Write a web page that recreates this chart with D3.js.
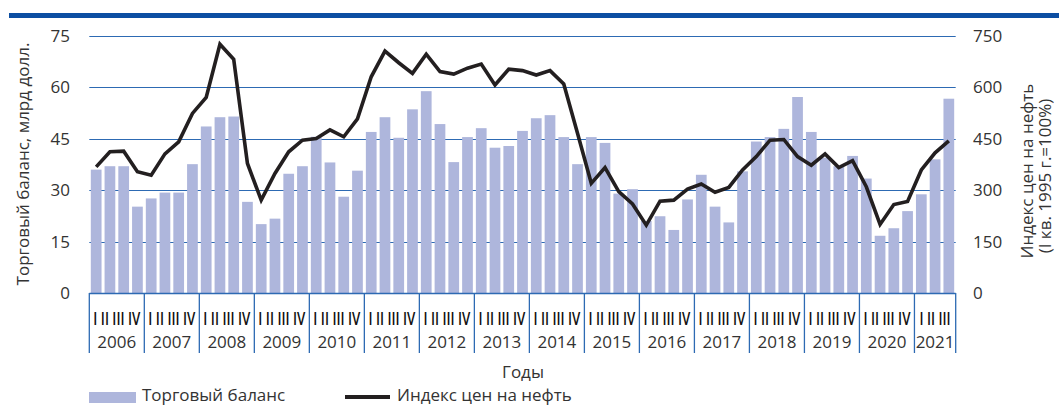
<!doctype html>
<html lang="ru">
<head>
<meta charset="UTF-8">
<title>Торговый баланс и индекс цен на нефть</title>
<style>
  html, body { margin: 0; padding: 0; background: #fff; }
  svg { display: block; font-family: 'Open Sans', sans-serif; }
  .tick-label { font-size: 17px; fill: #333; }
  .title { font-size: 17px; fill: #333; }
</style>
</head>
<body>
<svg width="1059" height="405"></svg>
<script src="https://d3js.org/d3.v7.min.js"></script>
<script>
  const years = ['2006', '2007', '2008', '2009', '2010', '2011', '2012', '2013',
    '2014', '2015', '2016', '2017', '2018', '2019', '2020', '2021']
  const quarterNames = ['I', 'II', 'III', 'IV']

  // торговый баланс, млрд долл. (по кварталам, I кв. 2006 – III кв. 2021)
  const tradeBalance = [
    36, 37, 37, 25.2,
    27.6, 29.3, 29.3, 37.6,
    48.6, 51.3, 51.5, 26.6,
    20.1, 21.7, 34.8, 37,
    45.6, 38.1, 28.1, 35.7,
    47, 51.3, 45.3, 53.6,
    58.9, 49.3, 38.2, 45.5,
    48.1, 42.4, 42.9, 47.3,
    51, 51.9, 45.5, 37.6,
    45.5, 43.8, 29, 30.3,
    21, 22.4, 18.4, 27.3,
    34.5, 25.2, 20.6, 35.5,
    44.2, 45.5, 47.9, 57.2,
    47, 39.5, 37, 40,
    33.4, 16.7, 18.9, 23.9,
    28.8, 39, 56.7
  ]

  // индекс цен на нефть (I кв. 1995 г. = 100%)
  const oilIndex = [
    368, 412, 414, 354,
    344, 406, 441, 524,
    571, 726, 682, 378,
    271, 349, 412, 446,
    451, 476, 456, 508,
    631, 706, 672, 641,
    697, 646, 639, 656,
    668, 607, 653, 649,
    636, 649, 610, 466,
    320, 366, 296, 260,
    198, 268, 271, 303,
    318, 294, 308, 359,
    398, 446, 448, 398,
    373, 406, 366, 386,
    310, 200, 258, 267,
    359, 409, 444
  ]

  const leftTicks = [0, 15, 30, 45, 60, 75]
  const rightTicks = [0, 150, 300, 450, 600, 750]

  const blue = '#2d6ab3'
  const barColor = '#aeb6dc'

  const svg = d3.select('svg')

  const quarters = tradeBalance.map((v, i) => ({
    i,
    year: years[Math.floor(i / 4)],
    q: quarterNames[i % 4],
    balance: v,
    oil: oilIndex[i]
  }))

  const x = d3.scaleBand()
    .domain(quarters.map(d => d.i))
    .range([89.3, 955.7])
    .paddingInner(0.22)
    .paddingOuter(0.11)

  const step = x.step()
  const x0 = 89.3

  const yL = d3.scaleLinear().domain([0, 75]).range([293, 36])
  const yR = d3.scaleLinear().domain([0, 750]).range([293, 36])

  // top rule
  svg.append('rect')
    .attr('x', 9).attr('y', 13)
    .attr('width', 1050).attr('height', 5)
    .attr('fill', '#0c4ea2')

  // gridlines
  svg.append('g')
    .selectAll('line')
    .data(leftTicks.filter(t => t > 0))
    .enter()
    .append('line')
    .attr('x1', x0).attr('x2', 955.7)
    .attr('y1', d => Math.round(yL(d)) + 0.5)
    .attr('y2', d => Math.round(yL(d)) + 0.5)
    .attr('stroke', blue)
    .attr('stroke-width', 1)

  // bars
  svg.append('g')
    .selectAll('rect')
    .data(quarters)
    .enter()
    .append('rect')
    .attr('x', d => x(d.i))
    .attr('width', x.bandwidth())
    .attr('y', d => yL(d.balance))
    .attr('height', d => yL(0) - yL(d.balance))
    .attr('fill', barColor)

  // oil line
  const line = d3.line()
    .x(d => x(d.i) + x.bandwidth() / 2)
    .y(d => yR(d.oil))

  svg.append('path')
    .datum(quarters)
    .attr('d', line)
    .attr('fill', 'none')
    .attr('stroke', '#231f20')
    .attr('stroke-width', 3.6)
    .attr('stroke-linejoin', 'miter')

  // bottom axis frame
  const axisG = svg.append('g')
  axisG.append('line')
    .attr('x1', x0).attr('x2', 955.7)
    .attr('y1', 293.5).attr('y2', 293.5)
    .attr('stroke', blue).attr('stroke-width', 1.3)

  const boundaries = d3.range(years.length).map(k => x0 + k * 4 * step).concat([955.7])
  axisG.selectAll('line.year-tick')
    .data(boundaries)
    .enter()
    .append('line')
    .attr('class', 'year-tick')
    .attr('x1', d => d).attr('x2', d => d)
    .attr('y1', 293).attr('y2', 353)
    .attr('stroke', blue).attr('stroke-width', 1.3)

  // quarters present in each year
  const quartersPerYear = years.map((y, k) => Math.min(4, tradeBalance.length - k * 4))

  // quarter labels, one string per year, squeezed horizontally
  axisG.selectAll('text.q')
    .data(years)
    .enter()
    .append('text')
    .attr('class', 'q')
    .attr('text-anchor', 'middle')
    .style('font-size', '18px')
    .style('font-weight', 600)
    .attr('fill', '#111')
    .text((d, k) => quarterNames.slice(0, quartersPerYear[k]).join(' '))
    .attr('transform', function (d, k) {
      const cx = x0 + (k * 4 + quartersPerYear[k] / 2) * step
      const want = quartersPerYear[k] === 4 ? 47 : 31
      const s = want / this.getComputedTextLength()
      return `translate(${cx},325) scale(${s},1)`
    })

  // year labels
  axisG.selectAll('text.year')
    .data(years)
    .enter()
    .append('text')
    .attr('class', 'tick-label')
    .attr('x', (d, k) => x0 + (k * 4 + quartersPerYear[k] / 2) * step)
    .attr('y', 348)
    .attr('text-anchor', 'middle')
    .text(d => d)

  // left ticks
  svg.append('g')
    .selectAll('text')
    .data(leftTicks)
    .enter()
    .append('text')
    .attr('class', 'tick-label')
    .attr('x', 70)
    .attr('y', d => yL(d))
    .attr('dy', '0.35em')
    .attr('text-anchor', 'end')
    .text(d => d)

  // right ticks
  svg.append('g')
    .selectAll('text')
    .data(rightTicks)
    .enter()
    .append('text')
    .attr('class', 'tick-label')
    .attr('x', 973)
    .attr('y', d => yR(d))
    .attr('dy', '0.35em')
    .attr('text-anchor', 'start')
    .text(d => d)

  // axis titles
  svg.append('text')
    .attr('class', 'title')
    .attr('transform', 'translate(29,164) rotate(-90)')
    .attr('text-anchor', 'middle')
    .text('Торговый баланс, млрд долл.')

  svg.append('text')
    .attr('class', 'title')
    .attr('transform', 'translate(1033,171) rotate(-90)')
    .attr('text-anchor', 'middle')
    .text('Индекс цен на нефть')

  svg.append('text')
    .attr('class', 'title')
    .attr('transform', 'translate(1051,176) rotate(-90)')
    .attr('text-anchor', 'middle')
    .text('(I кв. 1995 г.=100%)')

  svg.append('text')
    .attr('class', 'title')
    .attr('x', 523)
    .attr('y', 378)
    .attr('text-anchor', 'middle')
    .text('Годы')

  // legend
  const legend = svg.append('g')
  legend.append('rect')
    .attr('x', 89).attr('y', 392)
    .attr('width', 47).attr('height', 11)
    .attr('fill', barColor)
  legend.append('text')
    .attr('class', 'title')
    .attr('x', 142).attr('y', 401)
    .text('Торговый баланс')
  legend.append('line')
    .attr('x1', 345).attr('x2', 390)
    .attr('y1', 397).attr('y2', 397)
    .attr('stroke', '#231f20').attr('stroke-width', 4)
  legend.append('text')
    .attr('class', 'title')
    .attr('x', 397).attr('y', 401)
    .text('Индекс цен на нефть')
</script>
</body>
</html>
